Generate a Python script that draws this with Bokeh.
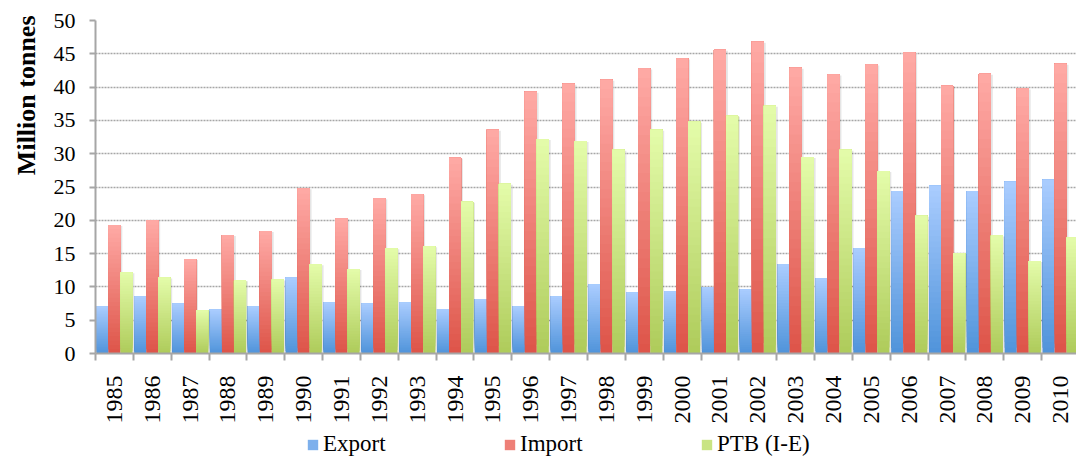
import numpy as np
from math import pi
from bokeh.plotting import figure
from bokeh.layouts import column
from bokeh.models import Range1d, FixedTicker, Legend, LegendItem, ColumnDataSource, Title
from bokeh.embed import file_html
from bokeh.resources import INLINE

years = ["1985", "1986", "1987", "1988", "1989", "1990", "1991", "1992", "1993",
         "1994", "1995", "1996", "1997", "1998", "1999", "2000", "2001", "2002",
         "2003", "2004", "2005", "2006", "2007", "2008", "2009", "2010"]
export = [7.1, 8.6, 7.5, 6.6, 7.1, 11.4, 7.7, 7.5, 7.7, 6.7, 8.2, 7.1, 8.6,
          10.4, 9.2, 9.4, 10.0, 9.7, 13.4, 11.3, 15.8, 24.4, 25.2, 24.4, 25.8, 26.1]
imports = [19.3, 20.0, 14.2, 17.8, 18.4, 24.8, 20.3, 23.3, 23.9, 29.4, 33.6, 39.3, 40.5,
           41.1, 42.8, 44.3, 45.6, 46.8, 42.9, 41.9, 43.4, 45.2, 40.2, 42.0, 39.8, 43.5]
ptb = [12.2, 11.4, 6.5, 11.0, 11.1, 13.4, 12.7, 15.8, 16.1, 22.8, 25.5, 32.2, 31.9,
       30.6, 33.6, 34.8, 35.7, 37.2, 29.5, 30.6, 27.4, 20.7, 15.1, 17.7, 13.9, 17.4]
series_names = ["Export", "Import", "PTB (I-E)"]

BAR_W = 0.318
N_SLICES = 30
GRAY = "#a6a6a6"
FONT = "Liberation Serif"
W = 1076
LEG_H = 26
H = 457 - LEG_H
FRAME_LEFT = 92


def hex2rgb(h):
    h = h.lstrip("#")
    return np.array([int(h[i:i + 2], 16) for i in (0, 2, 4)], dtype=float)


def gradient_source(values, offset, c_bottom, c_top):
    cb, ct = hex2rgb(c_bottom), hex2rgb(c_top)
    left, right, bottom, top, color = [], [], [], [], []
    for i, v in enumerate(values):
        for k in range(N_SLICES):
            t = (k + 0.5) / N_SLICES
            rgb = cb + (ct - cb) * t
            left.append(i + offset - BAR_W / 2)
            right.append(i + offset + BAR_W / 2)
            bottom.append(v * k / N_SLICES)
            top.append(v)
            color.append("#%02x%02x%02x" % tuple(int(round(c)) for c in rgb))
    return ColumnDataSource(dict(left=left, right=right, bottom=bottom, top=top, color=color))


p = figure(width=W, height=H, output_backend="svg", toolbar_location=None,
           x_range=Range1d(-0.5, 25.42), y_range=Range1d(0, 50),
           min_border_left=FRAME_LEFT, min_border_right=0, min_border_top=20,
           min_border_bottom=H - 20 - 333)
p.outline_line_color = None
p.background_fill_color = "white"
p.border_fill_color = "white"

p.xgrid.visible = False
p.ygrid.ticker = FixedTicker(ticks=list(range(0, 51, 5)))
p.ygrid.grid_line_color = GRAY
p.ygrid.grid_line_dash = "2 1"
p.ygrid.grid_line_width = 1.5

specs = [
    (export, -BAR_W, "#4f93da", "#abcdff"),
    (imports, 0.0, "#dd5448", "#ffaaa6"),
    (ptb, BAR_W, "#aecb5a", "#e4fcaa"),
]
for vals, off, cb, ct in specs:
    xs = np.arange(len(vals)) + off
    vv = np.array(vals)
    p.quad(left=xs - BAR_W / 2 + 0.05, right=xs + BAR_W / 2 + 0.05, bottom=0, top=vv - 0.15,
           fill_color="black", fill_alpha=0.10, line_color=None)
    src = gradient_source(vals, off, cb, ct)
    p.quad(left="left", right="right", bottom="bottom", top="top", source=src,
           fill_color="color", line_color=None)

# Y axis
ya = p.yaxis[0]
ya.ticker = FixedTicker(ticks=list(range(0, 51, 5)), minor_ticks=[])
ya.axis_line_color = GRAY
ya.axis_line_width = 2
ya.major_tick_line_color = GRAY
ya.major_tick_line_width = 2
ya.major_tick_out = 6
ya.major_tick_in = 0
ya.minor_tick_line_color = None
ya.major_label_text_font = FONT
ya.major_label_text_font_size = "22px"
ya.major_label_text_color = "black"
ya.major_label_standoff = 14

ylab = Title(text="Million tonnes", align="right", offset=-5, standoff=19,
             text_font=FONT, text_font_style="bold", text_font_size="26px",
             text_color="black")
p.add_layout(ylab, "left")

# X axis
xa = p.xaxis[0]
xa.ticker = FixedTicker(ticks=list(range(len(years))),
                        minor_ticks=[i - 0.5 for i in range(len(years) + 1)])
xa.major_label_overrides = {i: y for i, y in enumerate(years)}
xa.major_label_orientation = pi / 2
xa.axis_line_color = GRAY
xa.axis_line_width = 2
xa.major_tick_line_color = None
xa.major_tick_out = 0
xa.major_tick_in = 0
xa.minor_tick_line_color = GRAY
xa.minor_tick_line_width = 2
xa.minor_tick_out = 7
xa.minor_tick_in = 0
xa.major_label_text_font = FONT
xa.major_label_text_font_size = "24px"
xa.major_label_text_color = "black"
xa.major_label_standoff = 15

# Legend strip below the chart
q = figure(width=W, height=LEG_H, output_backend="svg", toolbar_location=None,
           x_range=Range1d(0, 1), y_range=Range1d(0, 1),
           x_axis_type=None, y_axis_type=None,
           min_border_left=FRAME_LEFT, min_border_right=0, min_border_top=0, min_border_bottom=0)
q.outline_line_color = None
q.xgrid.visible = False
q.ygrid.visible = False
leg_colors = ["#7db0ec", "#ee7f77", "#c9e483"]
items = []
for name, c in zip(series_names, leg_colors):
    r = q.quad(left=[np.nan], right=[np.nan], bottom=[np.nan], top=[np.nan],
               fill_color=c, line_color=None)
    items.append(LegendItem(label=name, renderers=[r]))
legend = Legend(items=items, location=(303 - FRAME_LEFT, 0), orientation="horizontal")
legend.border_line_color = None
legend.background_fill_alpha = 0
legend.padding = 0
legend.margin = 0
legend.spacing = 0
legend.glyph_width = 13
legend.glyph_height = 13
legend.label_standoff = 4
legend.label_width = 180
legend.label_height = 24
legend.label_text_font = FONT
legend.label_text_font_size = "23px"
legend.label_text_color = "black"
q.add_layout(legend, "center")

open("out.html", "w").write(file_html(column(p, q, spacing=0), INLINE))
